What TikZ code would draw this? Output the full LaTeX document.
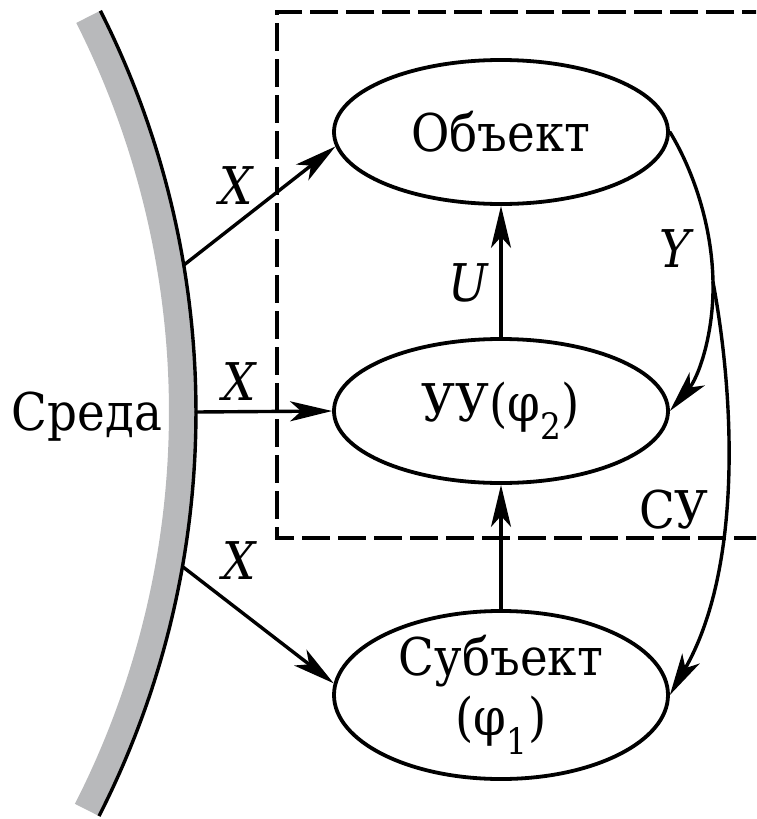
\documentclass[tikz,border=0pt]{standalone}
\usepackage{fontspec}
\setmainfont{DejaVu Serif}[FakeStretch=0.9]
\usetikzlibrary{arrows.meta,shapes.geometric}
\definecolor{envgray}{RGB}{184,185,187}
\begin{document}
\begin{tikzpicture}[x=1pt,y=-1pt,
  every node/.style={font=\fontsize{52}{60}\selectfont},
  blob/.style={draw, ellipse, line width=3.8pt, minimum width=334pt, minimum height=144pt, inner sep=0pt, align=center},
  link/.style={line width=3.4pt, line cap=round, -{Stealth[length=42pt,width=20pt,inset=11pt]}},
  plain/.style={line width=3.4pt, line cap=round},
  lab/.style={inner sep=0pt, font=\fontsize{52}{60}\selectfont\itshape},
  txt/.style={inner sep=0pt},
  boxline/.style={line width=3.2pt, dash pattern=on 28pt off 8pt},
  band/.style={line width=26pt, color=envgray},
  edge line/.style={line width=3.4pt},
]
\useasboundingbox (0,0) rectangle (756,819);
\begin{scope}
  \clip (0,0) rectangle (756,819);
  \draw[boxline] (770,12) -- (277,12) -- (277,538) -- (770,538);
\end{scope}
% environment
\coordinate (ec) at (-694,412);
\draw[band] ([shift={(-26.8:876)}]ec) arc[start angle=-26.8, end angle=27, radius=876];
\draw[edge line] ([shift={(-26.8:890)}]ec) arc[start angle=-26.8, end angle=27, radius=890];
\coordinate (e1) at ([shift={(-9.5:890)}]ec);
\coordinate (e2) at ([shift={(0:890)}]ec);
\coordinate (e3) at ([shift={(10:890)}]ec);
% nodes
\node[blob] (obj) at (501,132) {Объект};
\node[blob] (uu) at (501,411) {УУ(φ\textsubscript{2})};
\node[blob] (sub) at (501,695) {Субъект\\(φ\textsubscript{1})};
\node[anchor=base] (sreda) at (87,430) {Среда};
\node[lab] (x1) at (236,186) {X};
\node[lab] (x2) at (239,382) {X};
\node[lab] (x3) at (239,561) {X};
\node[lab] (u) at (468,283) {U};
\node[lab] (y) at (675,249) {Y};
\node[txt] (su) at (674,510) {СУ};
% connectors
\draw[link] (e1) -- (obj.185);
\draw[link] (e2) -- (uu.west);
\draw[link] (e3) -- (sub.176);
\draw[link] (uu.north) -- (obj.south);
\draw[link] (sub.north) -- (uu.south);
\coordinate (br) at (713,282);
\draw[plain] (obj.east) .. controls (693,170) and (712,225) .. (br);
\draw[link] (br) .. controls (714,335) and (698,378) .. (uu.east);
\draw[link] (br) .. controls (735,400) and (742,570) .. (sub.east);
\end{tikzpicture}
\end{document}
